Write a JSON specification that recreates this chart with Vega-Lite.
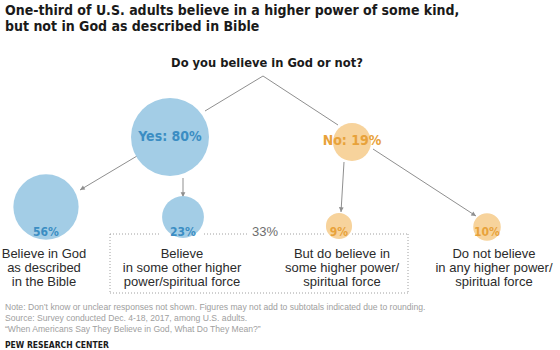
{
  "$schema": "https://vega.github.io/schema/vega-lite/v6.json",
  "autosize": {"type": "fit", "contains": "padding"},
  "width": 560,
  "height": 350,
  "padding": 0,
  "background": "white",
  "config": {"view": {"stroke": null}},
  "datasets": {
    "segments": [
      {"kind": "tree", "x": 263, "y": 76, "x2": 205, "y2": 111},
      {"kind": "tree", "x": 263, "y": 76, "x2": 338, "y2": 125},
      {"kind": "arrow", "x": 137, "y": 156, "x2": 80, "y2": 190},
      {"kind": "arrow", "x": 183, "y": 178, "x2": 183, "y2": 197},
      {"kind": "arrow", "x": 344, "y": 162, "x2": 341, "y2": 212},
      {"kind": "arrow", "x": 373, "y": 149, "x2": 476, "y2": 216},
      {"kind": "box", "x": 110, "y": 234, "x2": 110, "y2": 293},
      {"kind": "box", "x": 110, "y": 293, "x2": 408, "y2": 293},
      {"kind": "box", "x": 408, "y": 234, "x2": 408, "y2": 293},
      {"kind": "box", "x": 110, "y": 234, "x2": 161, "y2": 234},
      {"kind": "box", "x": 204, "y": 234, "x2": 249, "y2": 234},
      {"kind": "box", "x": 281, "y": 234, "x2": 326, "y2": 234},
      {"kind": "box", "x": 352, "y": 234, "x2": 408, "y2": 234}
    ],
    "nodes": [
      {"node": "Yes", "side": "yes", "pct": 80, "x": 170, "y": 137, "label": "Yes: 80%", "ly": 137, "level": "top"},
      {"node": "No", "side": "no", "pct": 19, "x": 352, "y": 142, "label": "No: 19%", "ly": 141, "level": "top"},
      {"node": "Believe in God as described in the Bible", "side": "yes", "pct": 56, "x": 46, "y": 207, "label": "56%", "ly": 232, "level": "sub"},
      {"node": "Believe in some other higher power/spiritual force", "side": "yes", "pct": 23, "x": 183, "y": 217, "label": "23%", "ly": 232, "level": "sub"},
      {"node": "But do believe in some higher power/spiritual force", "side": "no", "pct": 9, "x": 339, "y": 226, "label": "9%", "ly": 232, "level": "sub"},
      {"node": "Do not believe in any higher power/spiritual force", "side": "no", "pct": 10, "x": 487, "y": 227, "label": "10%", "ly": 232, "level": "sub"}
    ],
    "texts": [
      {"role": "title", "x": 5, "y": 11, "label": "One-third of U.S. adults believe in a higher power of some kind,"},
      {"role": "title", "x": 5, "y": 27, "label": "but not in God as described in Bible"},
      {"role": "question", "x": 267, "y": 63, "label": "Do you believe in God or not?"},
      {"role": "subtotal", "x": 265, "y": 232, "label": "33%"},
      {"role": "column", "x": 44, "y": 254, "label": "Believe in God\nas described\nin the Bible"},
      {"role": "column", "x": 182, "y": 254, "label": "Believe\nin some other higher\npower/spiritual force"},
      {"role": "column", "x": 342, "y": 254, "label": "But do believe in\nsome higher power/\nspiritual force"},
      {"role": "column", "x": 494, "y": 254, "label": "Do not believe\nin any higher power/\nspiritual force"},
      {"role": "note", "x": 5, "y": 307, "label": "Note: Don\u2019t know or unclear responses not shown. Figures may not add to subtotals indicated due to rounding."},
      {"role": "note", "x": 5, "y": 318, "label": "Source: Survey conducted Dec. 4-18, 2017, among U.S. adults."},
      {"role": "note", "x": 5, "y": 329, "label": "\u201cWhen Americans Say They Believe in God, What Do They Mean?\u201d"},
      {"role": "credit", "x": 5, "y": 345, "label": "PEW RESEARCH CENTER"}
    ]
  },
  "encoding": {
    "x": {"field": "x", "type": "quantitative", "scale": {"domain": [0, 560], "nice": false, "zero": false}, "axis": null},
    "y": {"field": "y", "type": "quantitative", "scale": {"domain": [0, 350], "nice": false, "zero": false, "reverse": true}, "axis": null}
  },
  "layer": [
    {
      "data": {"name": "segments"},
      "transform": [{"filter": "datum.kind === 'box'"}],
      "mark": {"type": "rule", "color": "#a0a0a0", "strokeWidth": 1, "strokeDash": [1, 2]},
      "encoding": {"x2": {"field": "x2"}, "y2": {"field": "y2"}}
    },
    {
      "data": {"name": "segments"},
      "transform": [{"filter": "datum.kind !== 'box'"}],
      "mark": {"type": "rule", "color": "#8f8f8f", "strokeWidth": 1},
      "encoding": {"x2": {"field": "x2"}, "y2": {"field": "y2"}}
    },
    {
      "data": {"name": "segments"},
      "transform": [
        {"filter": "datum.kind === 'arrow'"},
        {"calculate": "atan2(-(datum.x2 - datum.x), datum.y2 - datum.y) * 180 / PI", "as": "angle"}
      ],
      "mark": {"type": "point", "shape": "M0,0L-0.5,-1L0.5,-1Z", "filled": true, "size": 90, "color": "#8f8f8f", "opacity": 1},
      "encoding": {
        "x": {"field": "x2", "type": "quantitative"},
        "y": {"field": "y2", "type": "quantitative"},
        "angle": {"field": "angle", "type": "quantitative", "scale": null}
      }
    },
    {
      "data": {"name": "nodes"},
      "mark": {"type": "circle", "opacity": 1},
      "encoding": {
        "size": {"field": "pct", "type": "quantitative", "scale": {"domain": [0, 80], "range": [0, 6084]}, "legend": null},
        "fill": {"field": "side", "type": "nominal", "scale": {"domain": ["yes", "no"], "range": ["#a3cde6", "#f7d39c"]}, "legend": null}
      }
    },
    {
      "data": {"name": "nodes"},
      "transform": [{"filter": "datum.level === 'top'"}],
      "mark": {"type": "text", "font": "Liberation Sans Narrow, DejaVu Sans Condensed, sans-serif", "fontWeight": "bold", "fontSize": 14, "align": "center", "baseline": "middle"},
      "encoding": {
        "y": {"field": "ly", "type": "quantitative"},
        "text": {"field": "label"},
        "color": {"field": "side", "type": "nominal", "scale": {"domain": ["yes", "no"], "range": ["#3b8dc3", "#e8a23a"]}, "legend": null}
      }
    },
    {
      "data": {"name": "nodes"},
      "transform": [{"filter": "datum.level === 'sub'"}],
      "mark": {"type": "text", "font": "Liberation Sans Narrow, DejaVu Sans Condensed, sans-serif", "fontWeight": "bold", "fontSize": 12, "align": "center", "baseline": "middle"},
      "encoding": {
        "y": {"field": "ly", "type": "quantitative"},
        "text": {"field": "label"},
        "color": {"field": "side", "type": "nominal", "scale": {"domain": ["yes", "no"], "range": ["#3b8dc3", "#e8a23a"]}, "legend": null}
      }
    },
    {
      "data": {"name": "texts"},
      "transform": [{"filter": "datum.role === 'subtotal'"}],
      "mark": {"type": "text", "font": "Liberation Sans, sans-serif", "fontSize": 13, "color": "#6e6e6e", "align": "center", "baseline": "middle"},
      "encoding": {"text": {"field": "label"}}
    },
    {
      "data": {"name": "texts"},
      "transform": [{"filter": "datum.role === 'column'"}],
      "mark": {"type": "text", "font": "Liberation Sans, sans-serif", "fontSize": 13, "lineHeight": 14, "lineBreak": "\n", "color": "#2b2b2b", "align": "center", "baseline": "middle"},
      "encoding": {"text": {"field": "label"}}
    },
    {
      "data": {"name": "texts"},
      "transform": [{"filter": "datum.role === 'title'"}],
      "mark": {"type": "text", "font": "Liberation Sans Narrow, DejaVu Sans Condensed, sans-serif", "fontWeight": "bold", "fontSize": 14, "color": "#1a1a1a", "align": "left", "baseline": "middle"},
      "encoding": {"text": {"field": "label"}}
    },
    {
      "data": {"name": "texts"},
      "transform": [{"filter": "datum.role === 'question'"}],
      "mark": {"type": "text", "font": "Liberation Sans Narrow, DejaVu Sans Condensed, sans-serif", "fontWeight": "bold", "fontSize": 12.8, "color": "#1a1a1a", "align": "center", "baseline": "middle"},
      "encoding": {"text": {"field": "label"}}
    },
    {
      "data": {"name": "texts"},
      "transform": [{"filter": "datum.role === 'note'"}],
      "mark": {"type": "text", "font": "Liberation Sans, sans-serif", "fontSize": 8.6, "color": "#a0a0a0", "align": "left", "baseline": "middle"},
      "encoding": {"text": {"field": "label"}}
    },
    {
      "data": {"name": "texts"},
      "transform": [{"filter": "datum.role === 'credit'"}],
      "mark": {"type": "text", "font": "Liberation Sans Narrow, DejaVu Sans Condensed, sans-serif", "fontWeight": "bold", "fontSize": 8.5, "color": "#1a1a1a", "align": "left", "baseline": "middle"},
      "encoding": {"text": {"field": "label"}}
    }
  ]
}
